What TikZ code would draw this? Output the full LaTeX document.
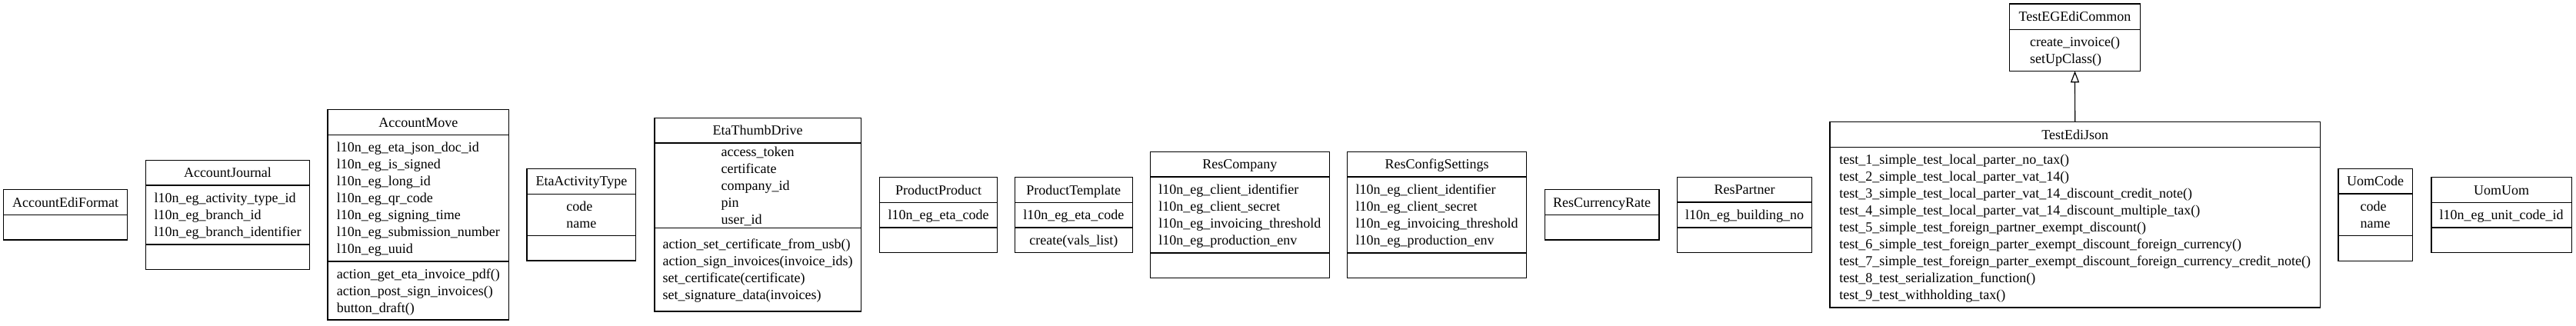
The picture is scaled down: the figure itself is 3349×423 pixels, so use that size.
\documentclass[tikz,border=0pt]{standalone}
\usepackage{fontspec}
\setmainfont{Liberation Serif}
\usetikzlibrary{arrows.meta}
\newcommand\sst{\rule[-5pt]{0pt}{22pt}}
\newcommand\classbox[5]{\node[boxst, minimum width={#4-#2}, minimum height={#5-#3}] (#1) at ({(#2+#4)/2},{(#3+#5)/2}) {};}
\newcommand\classdiv[2]{\draw[divst] (#1.west |- 0,#2) -- (#1.east |- 0,#2);}
\newcommand\ctext[4]{\node[txtst] (#1) at (#2,#3) {#4};}
\tikzset{
  boxst/.style={draw=black, line width=1.2pt, rectangle, inner sep=0pt, outer sep=0pt},
  divst/.style={draw=black, line width=1.2pt},
  txtst/.style={inner sep=0pt, outer sep=0pt, align=left, anchor=center, text=black, font=\fontsize{18pt}{22pt}\selectfont},
  inh/.style={draw=black, line width=1.2pt, -{Triangle[open, length=15pt, width=11pt, line width=1.2pt]}}
}
\begin{document}
\begin{tikzpicture}[x=1pt,y=-1pt]
\useasboundingbox[fill=white] (0,0) rectangle (3349,423);
% AccountEdiFormat
\classbox{aef}{4.7}{246.7}{165.7}{312}
\classdiv{aef}{279.7}
\ctext{aef-t}{85.2}{263.2}{\sst AccountEdiFormat}
% AccountJournal
\classbox{aj}{189.7}{208.7}{402.3}{350.3}
\classdiv{aj}{241}
\classdiv{aj}{318}
\ctext{aj-t}{296}{224.85}{\sst AccountJournal}
\ctext{aj-a}{296}{279.5}{\sst l10n\_eg\_activity\_type\_id\\\sst l10n\_eg\_branch\_id\\\sst l10n\_eg\_branch\_identifier}
% AccountMove
\classbox{am}{426}{142.7}{661.7}{416}
\classdiv{am}{175.3}
\classdiv{am}{340}
\ctext{am-t}{543.85}{159}{\sst AccountMove}
\ctext{am-a}{543.85}{257.65}{\sst l10n\_eg\_eta\_json\_doc\_id\\\sst l10n\_eg\_is\_signed\\\sst l10n\_eg\_long\_id\\\sst l10n\_eg\_qr\_code\\\sst l10n\_eg\_signing\_time\\\sst l10n\_eg\_submission\_number\\\sst l10n\_eg\_uuid}
\ctext{am-m}{543.85}{378}{\sst action\_get\_eta\_invoice\_pdf()\\\sst action\_post\_sign\_invoices()\\\sst button\_draft()}
% EtaActivityType
\classbox{eat}{685}{219.3}{826.7}{339}
\classdiv{eat}{252.3}
\classdiv{eat}{306.7}
\ctext{eat-t}{755.85}{235.8}{\sst EtaActivityType}
\ctext{eat-a}{755.85}{279.5}{\sst code\\\sst name}
% EtaThumbDrive
\classbox{etd}{851}{153.3}{1119.3}{405}
\classdiv{etd}{186}
\classdiv{etd}{296.7}
\ctext{etd-t}{985.15}{169.65}{\sst EtaThumbDrive}
\ctext{etd-a}{985.15}{241.35}{\sst access\_token\\\sst certificate\\\sst company\_id\\\sst pin\\\sst user\_id}
\ctext{etd-m}{985.15}{350.85}{\sst action\_set\_certificate\_from\_usb()\\\sst action\_sign\_invoices(invoice\_ids)\\\sst set\_certificate(certificate)\\\sst set\_signature\_data(invoices)}
% ProductProduct
\classbox{pp}{1143.3}{230.7}{1296.7}{328.7}
\classdiv{pp}{263.3}
\classdiv{pp}{296}
\ctext{pp-t}{1220}{247}{\sst ProductProduct}
\ctext{pp-a}{1220}{279.65}{\sst l10n\_eg\_eta\_code}
% ProductTemplate
\classbox{pt}{1319.3}{230.7}{1472.3}{328.7}
\classdiv{pt}{263.3}
\classdiv{pt}{296}
\ctext{pt-t}{1395.8}{247}{\sst ProductTemplate}
\ctext{pt-a}{1395.8}{279.65}{\sst l10n\_eg\_eta\_code}
\ctext{pt-m}{1395.8}{312.35}{\sst create(vals\_list)}
% ResCompany
\classbox{rc}{1495.3}{197.3}{1728.3}{361.7}
\classdiv{rc}{230}
\classdiv{rc}{329}
\ctext{rc-t}{1611.8}{213.65}{\sst ResCompany}
\ctext{rc-a}{1611.8}{279.5}{\sst l10n\_eg\_client\_identifier\\\sst l10n\_eg\_client\_secret\\\sst l10n\_eg\_invoicing\_threshold\\\sst l10n\_eg\_production\_env}
% ResConfigSettings
\classbox{rcs}{1751.7}{197.3}{1984.3}{361.7}
\classdiv{rcs}{230}
\classdiv{rcs}{329}
\ctext{rcs-t}{1868}{213.65}{\sst ResConfigSettings}
\ctext{rcs-a}{1868}{279.5}{\sst l10n\_eg\_client\_identifier\\\sst l10n\_eg\_client\_secret\\\sst l10n\_eg\_invoicing\_threshold\\\sst l10n\_eg\_production\_env}
% ResCurrencyRate
\classbox{rcr}{2008.3}{246.7}{2157}{312}
\classdiv{rcr}{279.3}
\ctext{rcr-t}{2082.65}{263}{\sst ResCurrencyRate}
% ResPartner
\classbox{rp}{2180.7}{230.7}{2355.7}{328.3}
\classdiv{rp}{263}
\classdiv{rp}{296}
\ctext{rp-t}{2268.2}{246.85}{\sst ResPartner}
\ctext{rp-a}{2268.2}{279.5}{\sst l10n\_eg\_building\_no}
% TestEGEdiCommon
\classbox{tec}{2612.3}{5}{2782.7}{92.3}
\classdiv{tec}{38.3}
\ctext{tec-t}{2697.5}{21.65}{\sst TestEGEdiCommon}
\ctext{tec-m}{2697.5}{65.3}{\sst create\_invoice()\\\sst setUpClass()}
% TestEdiJson
\classbox{tej}{2379}{158.7}{3016.3}{400}
\classdiv{tej}{191.5}
\ctext{tej-t}{2697.65}{175.1}{\sst TestEdiJson}
\ctext{tej-m}{2697.65}{295.75}{\sst test\_1\_simple\_test\_local\_parter\_no\_tax()\\\sst test\_2\_simple\_test\_local\_parter\_vat\_14()\\\sst test\_3\_simple\_test\_local\_parter\_vat\_14\_discount\_credit\_note()\\\sst test\_4\_simple\_test\_local\_parter\_vat\_14\_discount\_multiple\_tax()\\\sst test\_5\_simple\_test\_foreign\_partner\_exempt\_discount()\\\sst test\_6\_simple\_test\_foreign\_parter\_exempt\_discount\_foreign\_currency()\\\sst test\_7\_simple\_test\_foreign\_parter\_exempt\_discount\_foreign\_currency\_credit\_note()\\\sst test\_8\_test\_serialization\_function()\\\sst test\_9\_test\_withholding\_tax()}
% UomCode
\classbox{uc}{3040}{219.7}{3136.3}{339.3}
\classdiv{uc}{252}
\classdiv{uc}{306.7}
\ctext{uc-t}{3088.15}{235.85}{\sst UomCode}
\ctext{uc-a}{3088.15}{279.35}{\sst code\\\sst name}
% UomUom
\classbox{uu}{3161}{230.7}{3343.3}{328.3}
\classdiv{uu}{263.3}
\classdiv{uu}{296}
\ctext{uu-t}{3252.15}{247}{\sst UomUom}
\ctext{uu-a}{3252.15}{279.65}{\sst l10n\_eg\_unit\_code\_id}
% inheritance
\draw[inh] (tej.north) -- (tec.south);
\end{tikzpicture}
\end{document}
